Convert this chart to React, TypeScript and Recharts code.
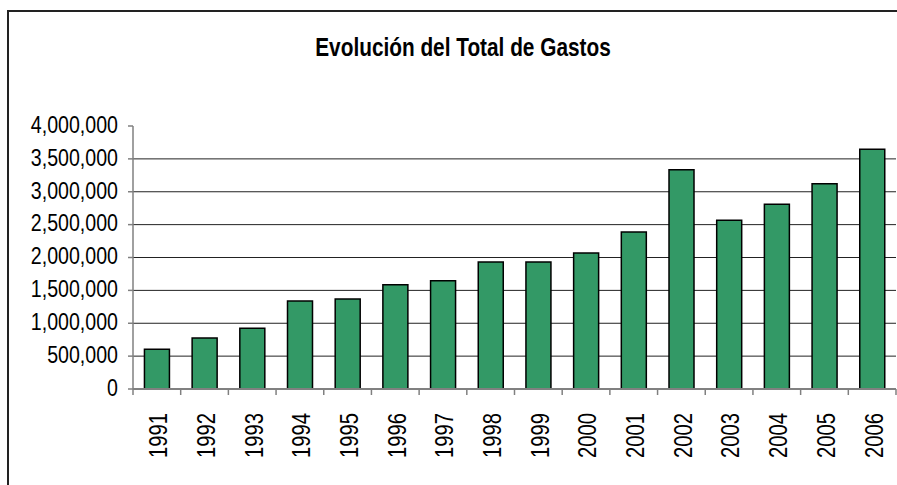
import React from 'react';
import { BarChart, Bar, XAxis, YAxis, CartesianGrid } from 'recharts';

const title = 'Evolución del Total de Gastos';
const years = ['1991', '1992', '1993', '1994', '1995', '1996', '1997', '1998', '1999', '2000', '2001', '2002', '2003', '2004', '2005', '2006'];
const gastos = [604000, 776000, 923000, 1338000, 1369000, 1586000, 1647000, 1932000, 1932000, 2068000, 2388000, 3335000, 2566000, 2809000, 3122000, 3646000];
const yTicks = [0, 500000, 1000000, 1500000, 2000000, 2500000, 3000000, 3500000, 4000000];
const gridValues = [500000, 1000000, 1500000, 2000000, 2500000, 3000000, 3500000];

const data = years.map((year, i) => ({ year, gastos: gastos[i] }));

const FONT = '"Liberation Sans", Arial, sans-serif';
const NARROW = 0.81;

const XTick = (props: any) => {
  const { x, y, payload, width, visibleTicksCount, index } = props;
  const count = visibleTicksCount || years.length;
  const half =
    payload && typeof payload.offset === 'number' && payload.offset > 0
      ? payload.offset
      : width / count / 2;
  const ay = y + 24;
  const isLast = index === count - 1;
  return (
    <g>
      <line x1={x - half} y1={y} x2={x - half} y2={y + 6} stroke="#808080" strokeWidth={1.5} />
      {isLast && <line x1={x + half} y1={y} x2={x + half} y2={y + 6} stroke="#808080" strokeWidth={1.5} />}
      <text
        x={0}
        y={0}
        transform={`translate(${x}, ${ay}) rotate(-90) scale(${NARROW}, 1)`}
        textAnchor="end"
        dy={10.4}
        fontSize={25}
        fill="#000"
        fontFamily={FONT}
      >
        {payload.value}
      </text>
    </g>
  );
};

const YTick = (props: any) => {
  const { x, y, payload } = props;
  return (
    <text
      x={0}
      y={0}
      transform={`translate(${x}, ${y}) scale(0.8, 1)`}
      textAnchor="end"
      dy={6.8}
      fontSize={24.5}
      fill="#000"
      fontFamily={FONT}
    >
      {Number(payload.value).toLocaleString('en-US')}
    </text>
  );
};

export default function App() {
  return (
    <div style={{ position: 'absolute', left: 0, top: 0, width: 897, height: 485, background: '#fff', fontFamily: FONT }}>
      <div
        style={{
          position: 'absolute',
          left: 7,
          top: 10,
          width: 888,
          height: 473,
          borderLeft: '2px solid #222',
          borderTop: '2px solid #222',
        }}
      />
      <div
        style={{
          position: 'absolute',
          left: 213,
          top: 34,
          width: 500,
          textAlign: 'center',
          fontSize: 26,
          lineHeight: '26px',
          fontWeight: 'bold',
          color: '#000',
          fontFamily: FONT,
          transform: 'scaleX(0.8)',
          transformOrigin: 'center',
          whiteSpace: 'nowrap',
        }}
      >
        {title}
      </div>
      <div style={{ position: 'absolute', left: 0, top: 0 }}>
        <BarChart
          width={897}
          height={485}
          data={data}
          margin={{ top: 126, right: 1, left: 0, bottom: 0 }}
          barCategoryGap="24%"
        >
          <CartesianGrid vertical={false} horizontalValues={gridValues} stroke="#222" strokeWidth={1} />
          <XAxis
            dataKey="year"
            interval={0}
            height={96}
            axisLine={{ stroke: '#808080', strokeWidth: 2 }}
            tickLine={false}
            tickSize={0}
            tickMargin={0}
            tick={<XTick />}
          />
          <YAxis
            width={133}
            domain={[0, 4000000]}
            ticks={yTicks}
            interval={0}
            tick={<YTick />}
            tickSize={5}
            tickMargin={10}
            axisLine={{ stroke: '#808080', strokeWidth: 1.5 }}
            tickLine={{ stroke: '#808080', strokeWidth: 1.5 }}
          />
          <Bar dataKey="gastos" fill="#339966" stroke="#000" strokeWidth={1.5} isAnimationActive={false} />
        </BarChart>
      </div>
    </div>
  );
}
